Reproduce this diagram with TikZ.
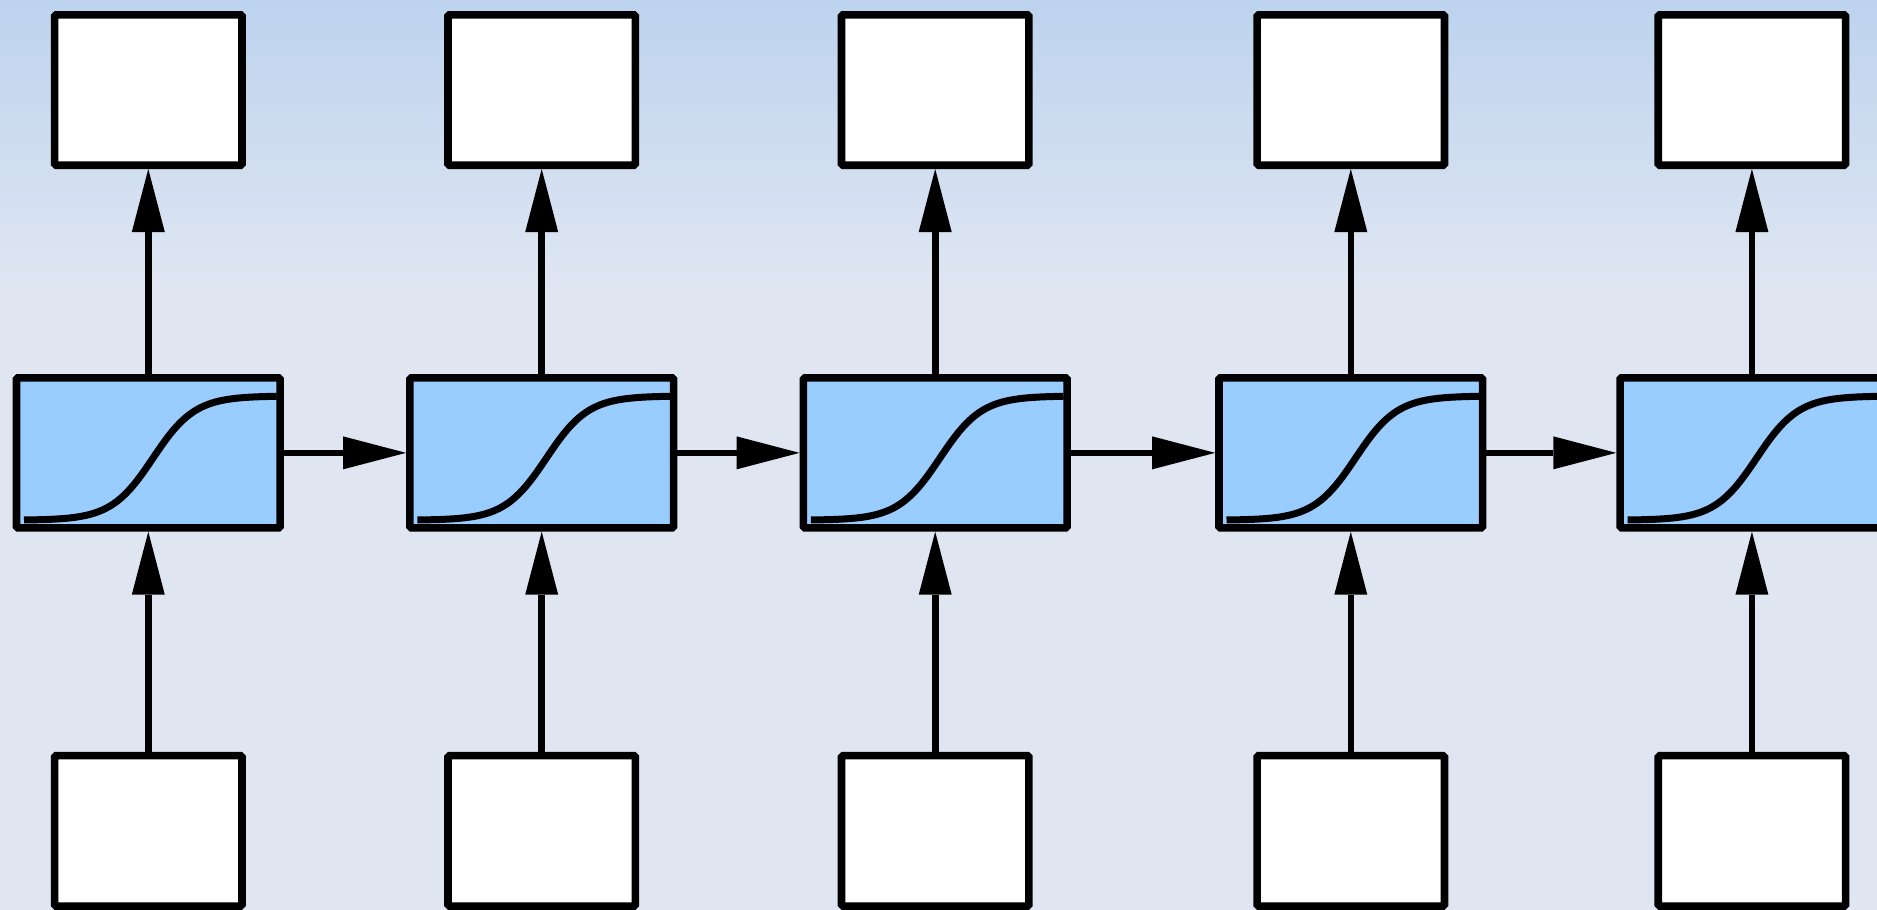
\documentclass[tikz,border=0pt]{standalone}
\usetikzlibrary{arrows.meta}
\definecolor{bgtop}{RGB}{189,211,238}
\definecolor{bgbot}{RGB}{223,230,242}
\definecolor{cellblue}{RGB}{153,204,255}
\begin{document}
\begin{tikzpicture}[x=1pt,y=-1pt,
  iobox/.style={draw=black, fill=white, line width=7.6pt, rounded corners=1.5pt,
    minimum width=187.4pt, minimum height=150.4pt, inner sep=0pt},
  cellbox/.style={draw=black, fill=cellblue, line width=7.6pt, rounded corners=1.5pt,
    minimum width=263.7pt, minimum height=150.1pt, inner sep=0pt},
  conn/.style={line width=6.6pt, -{Triangle[length=63pt,width=33pt,line width=0pt]}},
  sigm/.style={line width=7pt, line cap=butt}]
\useasboundingbox (0,0) rectangle (1877,910);
\clip (0,0) rectangle (1877,910);
\fill[bgbot] (0,0) rectangle (1877,910);
\shade[top color=bgtop, bottom color=bgbot] (0,0) rectangle (1877,290);
\foreach \i/\x in {1/148.3,2/541.7,3/935.2,4/1350.8,5/1751.9} {
  \node[iobox] (t\i) at (\x,90) {};
  \node[cellbox] (m\i) at (\x,452.85) {};
  \node[iobox] (b\i) at (\x,830.85) {};
  \begin{scope}[shift={(m\i.center)}]
    \draw[sigm] plot[domain=-124.3:128.3, samples=90, smooth]
      (\x, {67.4 - 124.3/(1+exp(-(\x-4.7)/21))});
  \end{scope}
}
\foreach \i in {1,...,5} {
  \draw[conn] (b\i) -- (m\i);
  \draw[conn] (m\i) -- (t\i);
}
\foreach \i/\j in {1/2,2/3,3/4,4/5} {
  \draw[conn] (m\i) -- (m\j);
}
\end{tikzpicture}
\end{document}
